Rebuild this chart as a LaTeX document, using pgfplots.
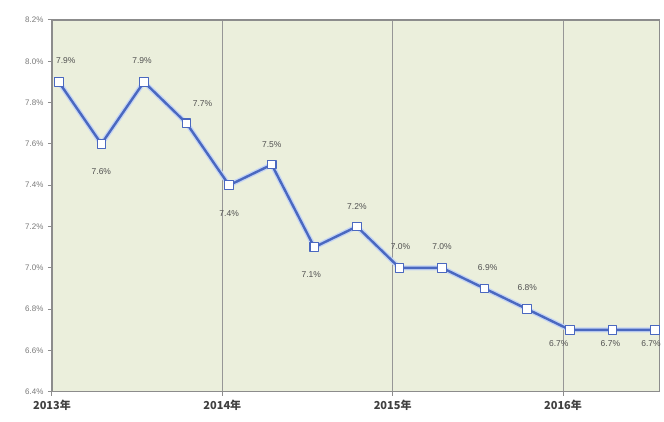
\documentclass[border=0pt]{standalone}
\usepackage{pgfplots}
\pgfplotsset{compat=1.18}
\usepackage{pgfplotstable}
\usepackage{fontspec}
\setmainfont{Liberation Sans}
\newfontfamily\cjk{Noto Sans CJK SC}

\definecolor{bgc}{RGB}{235,239,220}
\definecolor{linec}{RGB}{74,104,192}
\definecolor{haloc}{RGB}{196,212,244}
\definecolor{framec}{RGB}{140,140,140}
\definecolor{gridc}{RGB}{150,150,150}
\definecolor{tickc}{RGB}{120,120,120}
\definecolor{labc}{RGB}{80,80,80}

% x in quarters from 2013; dx, dy = label offset in px (dy down)
\pgfplotstableread{
x     y    dx   dy
0.16  7.9   7  -21
1.16  7.6   0   28
2.16  7.9  -2  -21
3.16  7.7  16  -20
4.16  7.4   0   28
5.16  7.5   0  -20
6.16  7.1  -3   27
7.16  7.2   0  -20
8.16  7.0   1  -21
9.16  7.0   0  -21
10.16 6.9   3  -21
11.16 6.8   0  -22
12.16 6.7 -11   14
13.16 6.7  -2   14
14.16 6.7  -4   14
}\growth

\begin{document}
\begin{tikzpicture}
\begin{axis}[
    scale only axis,
    width=608pt, height=372pt,
    xmin=0, xmax=14.27,
    ymin=6.4, ymax=8.2,
    axis background/.style={fill=bgc},
    axis line style={draw=framec, line width=1.3pt},
    xtick={0,4,8,12},
    xticklabels={2013年,2014年,2015年,2016年},
    ytick={6.4,6.6,6.8,7.0,7.2,7.4,7.6,7.8,8.0,8.2},
    yticklabels={6.4\%,6.6\%,6.8\%,7.0\%,7.2\%,7.4\%,7.6\%,7.8\%,8.0\%,8.2\%},
    x tick label style={font=\cjk\bfseries\fontsize{11}{12}\selectfont, text=black!75, yshift=-1pt},
    y tick label style={font=\fontsize{8}{9}\selectfont, text=tickc, xshift=-1pt},
    tick align=outside,
    tick pos=left,
    major tick length=4pt,
    tick style={draw=framec, line width=1pt},
    xmajorgrids,
    grid style={draw=gridc, line width=0.8pt},
    /pgf/number format/assume math mode=true,
    clip=false,
  ]
  \addplot[haloc, line width=5pt, line join=round] table[x=x, y=y] {\growth};
  \addplot[
      linec, line width=2.4pt, line join=round,
      mark=square*, mark size=4.3pt,
      mark options={fill=white, draw=linec, line width=1.1pt},
      point meta=y,
      visualization depends on={\thisrow{dx}\as\ldx},
      visualization depends on={\thisrow{dy}\as\ldy},
      nodes near coords={\pgfmathprintnumber[fixed,fixed zerofill,precision=1]{\pgfplotspointmeta}\%},
      nodes near coords style={anchor=center, xshift=\ldx pt, yshift=-\ldy pt,
        font=\fontsize{8.5}{10}\selectfont, text=labc},
    ] table[x=x, y=y] {\growth};
\end{axis}
\path (current axis.south west) ++(-52pt,-30pt) coordinate (bl);
\path (current axis.north east) ++(4pt,20pt) coordinate (tr);
\useasboundingbox (bl) rectangle (tr);
\end{tikzpicture}
\end{document}
